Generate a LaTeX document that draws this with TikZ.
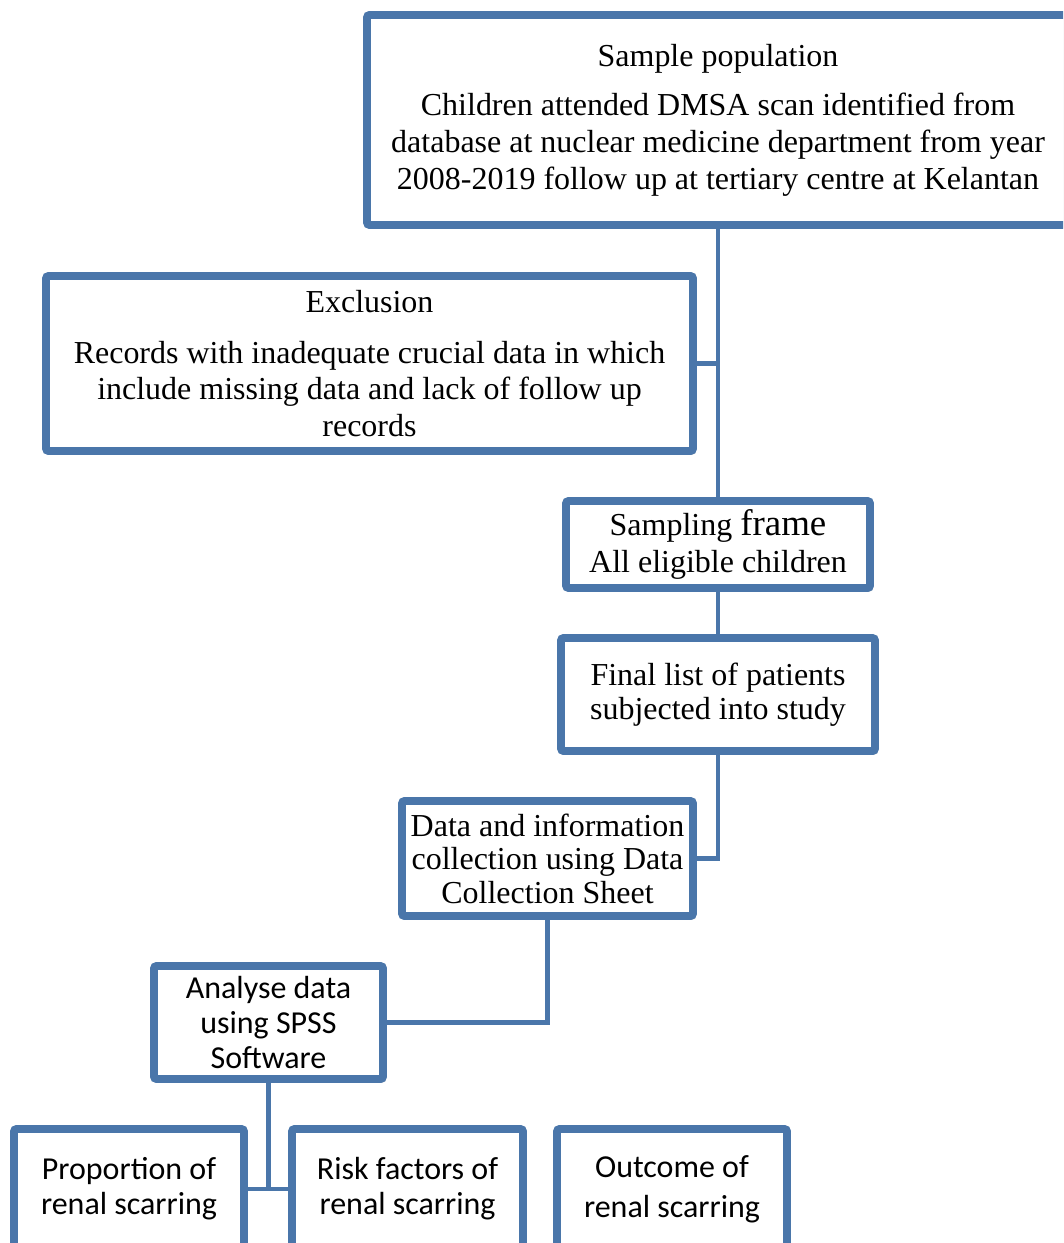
\documentclass[tikz,border=0pt]{standalone}
\usepackage{fontspec}
\setmainfont{Liberation Serif}
\setsansfont{Carlito}
\usetikzlibrary{shadows}

\definecolor{boxblue}{RGB}{74,118,170}

\tikzset{
  box/.style={draw=boxblue, line width=4.5pt, fill=white, rounded corners=1.5pt,
    align=center, inner sep=0pt, font=\fontsize{18.2}{19}\selectfont,
    drop shadow={shadow xshift=0.05cm, shadow yshift=-0.07cm, opacity=0.18, fill=black}},
  sbox/.style={box, font=\sffamily\fontsize{18.2}{20}\selectfont},
  wide/.style={font=\fontsize{18.2}{21}\selectfont}
}

\begin{document}
\begin{tikzpicture}
            \useasboundingbox (0,0) rectangle (21.26,-24.86);
            \clip (0,0) rectangle (21.26,-24.86);

            % study flow
            \node[box, wide, minimum width=14.04cm, minimum height=4.2cm] (pop) at (14.36,-2.4)
                {Sample population\\[7pt]
                 Children attended DMSA scan identified from\\
                 database at nuclear medicine department from year\\
                 2008-2019 follow up at tertiary centre at Kelantan};
            \node[box, wide, minimum width=12.94cm, minimum height=3.5cm] (excl) at (7.39,-7.27)
                {Exclusion\\[8pt]
                 Records with inadequate crucial data in which\\
                 include missing data and lack of follow up\\
                 records};
            \node[box, wide, minimum width=6.08cm, minimum height=1.74cm] (frame) at (14.36,-10.89)
                {Sampling {\fontsize{21}{21}\selectfont frame}\\
                 All eligible children};
            \node[box, minimum width=6.28cm, minimum height=2.26cm] (final) at (14.36,-13.89)
                {Final list of patients\\ subjected into study};
            \node[box, minimum width=5.82cm, minimum height=2.3cm] (collect) at (10.95,-17.17)
                {Data and information\\ collection using Data\\ Collection Sheet};

            % analysis
            \node[sbox, minimum width=4.58cm, minimum height=2.26cm] (analyse) at (5.37,-20.45)
                {Analyse data\\ using SPSS\\ Software};
            \node[sbox, minimum width=4.6cm, minimum height=2.4cm] (prop) at (2.58,-23.78)
                {Proportion of\\ renal scarring};
            \node[sbox, minimum width=4.62cm, minimum height=2.4cm] (risk) at (8.15,-23.78)
                {Risk factors of\\ renal scarring};
            \node[sbox, font=\sffamily\fontsize{18.2}{23}\selectfont, minimum width=4.6cm,
                minimum height=2.4cm] (outcome) at (13.44,-23.78)
                {Outcome of\\ renal scarring};

            \draw[draw=boxblue, line width=2.8pt] (pop.south) -- (frame.north);
            \draw[draw=boxblue, line width=2.8pt] (excl.east) -- (pop.south |- excl.east);
            \draw[draw=boxblue, line width=2.8pt] (frame.south) -- (final.north);
            \draw[draw=boxblue, line width=2.8pt] (final.south) |- (collect.east);
            \draw[draw=boxblue, line width=2.8pt] (collect.south) |- (analyse.east);
            \draw[draw=boxblue, line width=2.8pt] (analyse.south) -- (analyse.south |- prop.east);
            \draw[draw=boxblue, line width=2.8pt] (prop.east) -- (risk.west);
        \end{tikzpicture}
\end{document}
